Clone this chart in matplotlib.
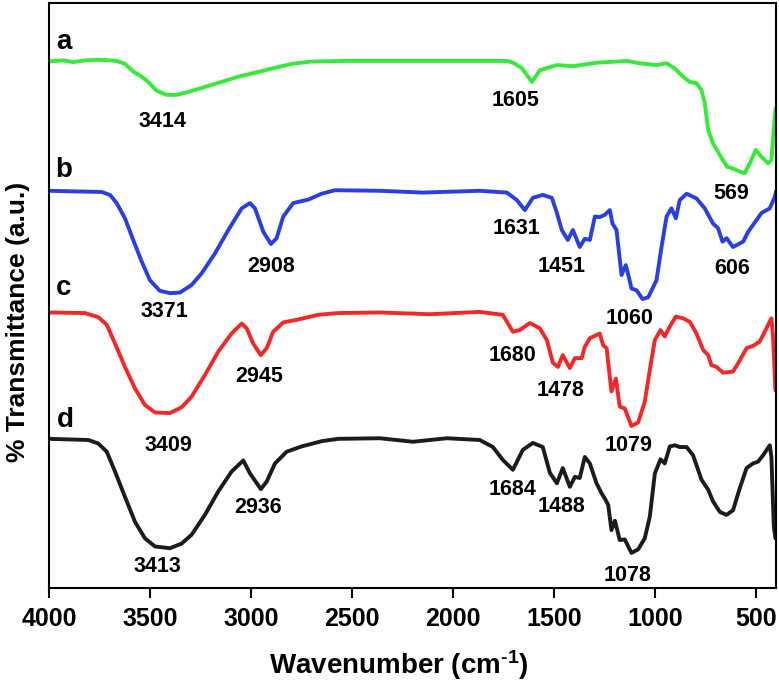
import matplotlib
matplotlib.use("Agg")
import matplotlib.pyplot as plt

plt.rcParams['font.family'] = ['Liberation Sans', 'DejaVu Sans']
plt.rcParams['font.weight'] = 'bold'
plt.rcParams['mathtext.fontset'] = 'custom'
plt.rcParams['mathtext.rm'] = 'Liberation Sans:bold'
plt.rcParams['mathtext.default'] = 'rm'

# ---- spectra (wavenumber, stacked transmittance a.u.) ----
wn_a = [4000, 3930, 3880, 3820, 3756, 3700, 3665, 3624, 3583, 3541, 3508, 3467, 3417, 3368,
        3310, 3195, 3063, 2931, 2799, 2700, 2535, 2362, 1733, 1703, 1659, 1609, 1570, 1485,
        1406, 1287, 1139, 1075, 992, 942, 901, 860, 827, 794, 769, 753, 736, 712, 678, 642,
        613, 580, 555, 530, 500, 472, 439, 423, 406, 402]
t_a = [90.0, 90.2, 89.9, 90.2, 90.3, 90.2, 90.1, 89.6, 88.3, 87.4, 86.5, 85.0, 84.3, 84.3,
       84.8, 86.0, 87.4, 88.5, 89.6, 90.0, 90.1, 90.1, 90.1, 89.8, 88.9, 86.5, 88.5, 89.4,
       89.2, 89.8, 90.1, 89.7, 89.4, 89.7, 88.8, 87.4, 86.5, 86.3, 85.1, 82.9, 78.3, 76.0, 74.0, 72.0,
       71.7, 71.2, 70.9, 72.6, 74.9, 73.7, 72.6, 73.2, 80.6, 82.0]

wn_b = [4000, 3739, 3698, 3665, 3624, 3583, 3541, 3500, 3451, 3401, 3352, 3294, 3244, 3178,
        3112, 3046, 3005, 2980, 2939, 2901, 2873, 2840, 2791, 2716, 2650, 2584, 2362, 2149,
        1867, 1733, 1683, 1644, 1604, 1555, 1510, 1485, 1461, 1431, 1406, 1372, 1347, 1322,
        1297, 1273, 1248, 1223, 1210, 1190, 1165, 1144, 1127, 1116, 1091, 1061, 1033, 992,
        967, 942, 918, 896, 877, 843, 794, 753, 712, 687, 665, 645, 613, 563, 538, 472, 431,
        406, 400]
t_b = [67.9, 67.7, 67.2, 65.8, 63.2, 59.5, 55.8, 52.6, 50.8, 50.4, 50.5, 51.8, 53.8, 57.2,
       61.2, 64.9, 65.8, 64.9, 60.9, 58.8, 59.8, 63.5, 65.8, 66.4, 67.4, 68.0, 67.9, 67.6,
       67.9, 67.6, 66.3, 64.6, 66.7, 67.2, 66.7, 64.1, 61.2, 59.5, 61.2, 58.3, 59.7, 59.5,
       63.5, 63.4, 63.8, 64.6, 62.3, 61.2, 53.5, 55.2, 52.9, 51.2, 50.9, 49.4, 49.7, 52.6,
       58.3, 63.5, 64.9, 63.2, 66.3, 67.4, 66.6, 64.9, 62.3, 61.5, 59.2, 59.8, 58.3, 59.2, 60.9, 64.1, 64.9,
       66.9, 67.8]

wn_c = [4000, 3822, 3756, 3714, 3673, 3624, 3574, 3525, 3475, 3401, 3343, 3294, 3228, 3162,
        3096, 3046, 3021, 2989, 2951, 2922, 2890, 2840, 2766, 2667, 2568, 2362, 2114, 1867,
        1753, 1703, 1669, 1619, 1570, 1535, 1505, 1480, 1456, 1421, 1396, 1362, 1347, 1322,
        1273, 1256, 1239, 1215, 1193, 1174, 1149, 1116, 1083, 1050, 1025, 1000, 972, 951, 926,
        896, 860, 827, 794, 761, 736, 720, 695, 662, 613, 588, 546, 514, 481, 456, 423, 415, 403]
t_c = [47.1, 47.0, 46.3, 45.0, 41.8, 37.8, 34.1, 31.3, 30.0, 29.9, 30.9, 32.7, 36.4, 40.4,
       43.5, 45.2, 44.4, 41.8, 39.8, 41.0, 43.8, 45.4, 45.9, 46.7, 47.0, 47.1, 46.8, 47.2,
       46.7, 43.8, 44.1, 45.3, 44.4, 42.4, 38.5, 37.8, 39.8, 37.6, 39.3, 39.3, 41.2, 42.7,
       43.5, 41.5, 41.0, 33.6, 35.8, 31.0, 30.7, 27.7, 28.3, 31.8, 37.3, 42.4, 44.1, 43.0, 44.7,
       46.4, 46.1, 45.5, 43.5, 40.7, 39.8, 38.1, 37.8, 36.8, 37.0, 38.4, 41.0, 41.4, 42.1, 43.8, 46.1, 43.0, 33.8]

wn_d = [4000, 3805, 3756, 3714, 3673, 3624, 3574, 3525, 3475, 3401, 3343, 3294, 3228, 3162,
        3096, 3038, 3005, 2951, 2922, 2881, 2823, 2749, 2650, 2568, 2362, 2198, 2030, 1867,
        1802, 1753, 1703, 1654, 1604, 1555, 1520, 1485, 1456, 1421, 1396, 1372, 1347, 1322,
        1289, 1264, 1248, 1231, 1215, 1198, 1174, 1149, 1116, 1083, 1050, 1025, 1000, 972, 951,
        926, 901, 877, 843, 811, 769, 736, 712, 678, 645, 613, 580, 546, 514, 489, 464, 431,
        423, 411, 403]
t_d = [25.5, 25.3, 24.7, 23.3, 19.9, 15.6, 11.3, 8.5, 7.1, 6.8, 7.6, 9.1, 12.5, 16.5,
       19.9, 21.8, 19.6, 16.9, 18.2, 21.3, 23.3, 24.2, 25.1, 25.5, 25.6, 25.0, 25.6, 25.3,
       24.1, 21.9, 20.2, 23.6, 24.8, 24.1, 19.7, 17.9, 20.5, 17.3, 19.0, 18.8, 22.4, 21.3,
       17.9, 16.2, 15.3, 14.2, 9.9, 11.5, 8.2, 8.3, 6.0, 6.6, 8.5, 12.2, 19.6, 22.0, 21.3,
       24.2, 24.4, 24.1, 24.1, 22.7, 18.5, 16.8, 14.8, 13.0, 12.5, 13.3, 17.0, 20.5, 21.3, 21.6, 22.7, 24.4,
       22.4, 10.5, 8.5]

colors = ['#38ea38', '#2a3fe0', '#f02828', '#1c1c1c']

# ---- annotations ----
letters = ['a', 'b', 'c', 'd']
letter_wn = [3926, 3926, 3926, 3921]
letter_t = [93.3, 71.5, 51.3, 28.7]

peak_text = ['3414', '1605', '569',
             '2908', '3371', '1631', '1451', '1060', '606',
             '2945', '3409', '1680', '1478', '1079',
             '2936', '3413', '1684', '1488', '1078']
peak_wn = [3436, 1688, 624,
           2901, 3426, 1683, 1461, 1124, 619,
           2960, 3411, 1703, 1466, 1129,
           2965, 3465, 1703, 1461, 1134]
peak_t = [79.8, 83.4, 67.5,
          54.9, 47.2, 61.4, 54.9, 46.0, 54.7,
          36.2, 24.3, 39.8, 33.8, 24.3,
          13.7, 3.6, 16.9, 14.0, 2.2]

fig = plt.figure(figsize=(7.79, 6.87), dpi=100)
ax = fig.add_axes([0.0629, 0.1441, 0.9333, 0.8515])

for wn, t, c in zip([wn_a, wn_b, wn_c, wn_d], [t_a, t_b, t_c, t_d], colors):
    ax.plot(wn, t, color=c, lw=2.8, solid_joinstyle='round', solid_capstyle='round')

for s, x, y in zip(letters, letter_wn, letter_t):
    ax.text(x, y, s, fontsize=20, fontweight='bold', ha='center', va='center')

for s, x, y in zip(peak_text, peak_wn, peak_t):
    ax.text(x, y, s, fontsize=15.5, fontweight='bold', ha='center', va='center')

ax.set_xlim(4000, 400)
ax.set_ylim(0, 100)
ax.set_xticks([4000, 3500, 3000, 2500, 2000, 1500, 1000, 500])
ax.set_yticks([])
ax.tick_params(axis='x', direction='out', length=7, width=1.5, labelsize=18, pad=6.5)
for lab in ax.get_xticklabels():
    lab.set_fontweight('bold')
for sp in ax.spines.values():
    sp.set_linewidth(1.5)

ax.set_xlabel(r'Wavenumber (cm$^{\text{-1}}$)', fontsize=20, fontweight='bold')
ax.xaxis.set_label_coords(0.481, -0.103)
ax.set_ylabel('% Transmittance (a.u.)', fontsize=19, fontweight='bold')
ax.yaxis.set_label_coords(-0.026, 0.455)

fig.savefig('out.png', dpi=100)
